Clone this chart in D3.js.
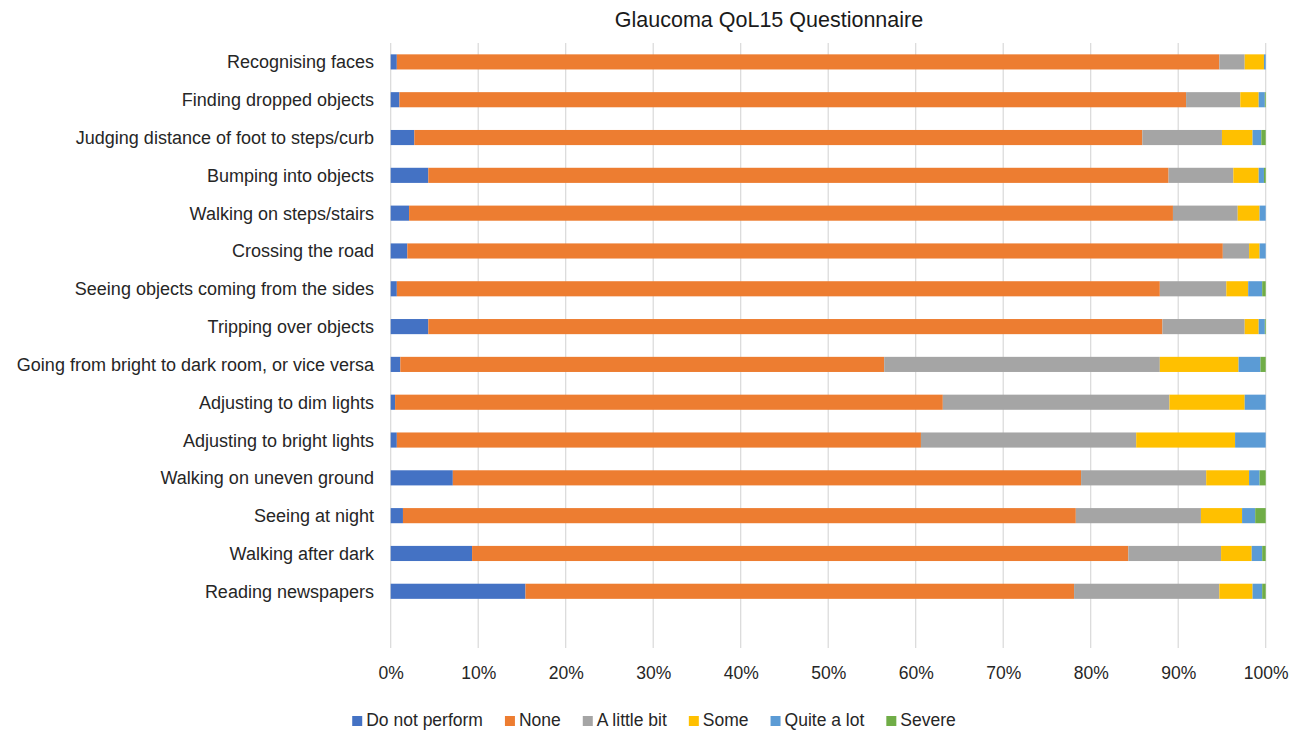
<!DOCTYPE html>
<html>
<head>
<meta charset="utf-8">
<script src="https://cdn.jsdelivr.net/npm/d3@7"></script>
<style>
  html, body { margin: 0; padding: 0; background: #ffffff; }
  svg { display: block; font-family: "Liberation Sans", Arial, sans-serif; }
</style>
</head>
<body>
<svg id="chart" width="1297" height="730"></svg>
<script>
const title = "Glaucoma QoL15 Questionnaire";
const categories = [
  "Recognising faces",
  "Finding dropped objects",
  "Judging distance of foot to steps/curb",
  "Bumping into objects",
  "Walking on steps/stairs",
  "Crossing the road",
  "Seeing objects coming from the sides",
  "Tripping over objects",
  "Going from bright to dark room, or vice versa",
  "Adjusting to dim lights",
  "Adjusting to bright lights",
  "Walking on uneven ground",
  "Seeing at night",
  "Walking after dark",
  "Reading newspapers"
];
const seriesNames = ["Do not perform", "None", "A little bit", "Some", "Quite a lot", "Severe"];
const doNotPerform = [0.7, 1.0, 2.7, 4.3, 2.1, 1.9, 0.7, 4.3, 1.1, 0.5, 0.7, 7.1, 1.4, 9.3, 15.4];
const none        = [94.0, 89.9, 83.2, 84.6, 87.3, 93.2, 87.2, 83.9, 55.3, 62.6, 59.9, 71.8, 76.9, 75.0, 62.7];
const aLittleBit  = [2.9, 6.2, 9.1, 7.4, 7.4, 3.0, 7.6, 9.4, 31.5, 25.9, 24.6, 14.3, 14.3, 10.6, 16.6];
const some        = [2.2, 2.1, 3.5, 2.9, 2.5, 1.2, 2.5, 1.6, 9.0, 8.6, 11.3, 4.9, 4.7, 3.5, 3.8];
const quiteALot   = [0.2, 0.7, 1.0, 0.6, 0.7, 0.7, 1.6, 0.7, 2.5, 2.4, 3.5, 1.2, 1.5, 1.2, 1.1];
const severe      = [0.0, 0.1, 0.5, 0.2, 0.0, 0.0, 0.4, 0.1, 0.6, 0.0, 0.0, 0.7, 1.2, 0.4, 0.4];
const tickValues = [0, 0.1, 0.2, 0.3, 0.4, 0.5, 0.6, 0.7, 0.8, 0.9, 1.0];
const colors = ["#4472C4", "#ED7D31", "#A5A5A5", "#FFC000", "#5B9BD5", "#70AD47"];

const seriesValues = [doNotPerform, none, aLittleBit, some, quiteALot, severe];
const rows = categories.map((c, i) => {
  const o = { category: c };
  seriesNames.forEach((s, j) => { o[s] = seriesValues[j][i]; });
  return o;
});

const svg = d3.select("#chart");
const plotLeft = 390.7, plotRight = 1265.7, plotTop = 43, gridBottom = 648;
const step = (gridBottom - plotTop) / 16;
const textColor = "#262626";

const x = d3.scaleLinear().domain([0, 1]).range([plotLeft, plotRight]);
const y = d3.scaleBand().domain(categories)
  .range([plotTop, plotTop + categories.length * step])
  .paddingInner(0.6).paddingOuter(0.3);

// gridlines
svg.append("g").selectAll("line").data(tickValues).join("line")
  .attr("x1", d => x(d)).attr("x2", d => x(d))
  .attr("y1", plotTop).attr("y2", gridBottom)
  .attr("stroke", "#d9d9d9").attr("stroke-width", 1.2);

// stacked bars (normalized to 100%)
const stack = d3.stack().keys(seriesNames).offset(d3.stackOffsetExpand);
const stacked = stack(rows);
svg.append("g").selectAll("g").data(stacked).join("g")
  .attr("fill", (d, i) => colors[i])
  .selectAll("rect").data(d => d).join("rect")
  .attr("x", d => x(d[0]))
  .attr("width", d => Math.max(0, x(d[1]) - x(d[0])))
  .attr("y", d => y(d.data.category))
  .attr("height", y.bandwidth());

// category labels
svg.append("g").selectAll("text").data(categories).join("text")
  .attr("x", 374).attr("y", d => y(d) + y.bandwidth() / 2)
  .attr("dy", "0.36em")
  .attr("text-anchor", "end")
  .attr("font-size", "18px").attr("fill", textColor)
  .text(d => d);

// x axis tick labels
const xAxis = d3.axisBottom(x).tickValues(tickValues).tickFormat(d3.format(".0%")).tickSize(0).tickPadding(0);
const ax = svg.append("g").attr("transform", `translate(0, 666)`).call(xAxis);
ax.select(".domain").remove();
ax.selectAll("text").attr("font-size", "17.5px").attr("fill", textColor)
  .attr("font-family", "Liberation Sans, Arial, sans-serif").attr("dy", "0.72em");

// title
svg.append("text").attr("x", 769).attr("y", 27)
  .attr("text-anchor", "middle").attr("font-size", "21.5px").attr("fill", "#1a1a1a")
  .text(title);

// legend
const lg = svg.append("g");
const items = lg.selectAll("g").data(seriesNames).join("g");
items.append("rect").attr("width", 10).attr("height", 10).attr("y", -10)
  .attr("fill", (d, i) => colors[i]);
items.append("text").attr("x", 14).attr("y", 0)
  .attr("font-size", "17.5px").attr("fill", textColor).text(d => d);
let cx = 0;
const pos = [];
items.each(function() {
  const w = this.querySelector("text").getComputedTextLength();
  pos.push(cx);
  cx += 14 + w + 22;
});
const total = cx - 22;
const startX = 654 - total / 2;
items.attr("transform", (d, i) => `translate(${startX + pos[i]}, 726)`);
</script>
</body>
</html>
